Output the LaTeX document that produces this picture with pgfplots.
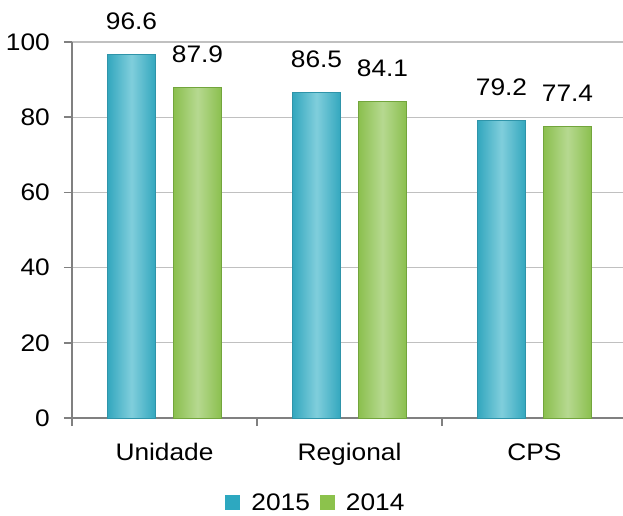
\documentclass[border=0pt]{standalone}
\usepackage{pgfplots}
\pgfplotsset{compat=1.18}
\usepackage{fontspec}
\setmainfont{Liberation Sans}[FakeStretch=1.1]
\definecolor{tealA}{HTML}{33A7BE}
\definecolor{tealB}{HTML}{80CEDC}
\definecolor{tealL}{HTML}{2F94A9}
\definecolor{tealS}{HTML}{2DA8C0}
\definecolor{greenA}{HTML}{8BBF4E}
\definecolor{greenB}{HTML}{B6D990}
\definecolor{greenL}{HTML}{72A53C}
\definecolor{greenS}{HTML}{8CC24C}
\definecolor{gridc}{HTML}{C0C0C0}
\definecolor{axc}{HTML}{808080}
\pgfplotsset{
  b15/.style={bar shift=-33bp, draw=tealL, line width=1bp, left color=tealA, right color=tealA, middle color=tealB, forget plot},
  b14/.style={bar shift=33bp, draw=greenL, line width=1bp, left color=greenA, right color=greenA, middle color=greenB, forget plot},
}
\begin{document}
\begin{tikzpicture}[font=\fontsize{24}{28}\selectfont]
\begin{axis}[
  scale only axis,
  width=555bp, height=376bp,
  xmin=-0.5, xmax=2.5,
  ymin=0, ymax=100,
  ytick={0,20,40,60,80,100},
  xtick={-0.5,0.5,1.5,2.5},
  xticklabels={},
  extra x ticks={0,1,2},
  extra x tick labels={Unidade,Regional,CPS},
  extra x tick style={major tick length=0pt, grid=none,
    xticklabel style={anchor=base, inner sep=0pt, yshift=-42bp}},
  axis lines*=left,
  axis line style={draw=axc, line width=1.5bp, -},
  tick style={draw=axc, line width=1.5bp},
  tick align=outside,
  major tick length=8bp,
  ymajorgrids,
  major grid style={draw=gridc, line width=1.2bp},
  yticklabel style={anchor=east, inner sep=0pt, xshift=-14bp},
  /pgf/number format/assume math mode=true,
  tick label style={font=\fontsize{24}{28}\selectfont},
  clip=false,
  ybar, bar width=48bp,
  nodes near coords,
  nodes near coords style={anchor=base, inner sep=0pt, yshift=25bp, font=\fontsize{24}{28}\selectfont, color=black,
    /pgf/number format/.cd, fixed, fixed zerofill, precision=1, assume math mode=true},
  legend columns=2,
  legend style={at={(0.4396,-0.225)}, anchor=center, draw=none, fill=none,
    font=\fontsize{24}{28}\selectfont,
    /tikz/every even column/.append style={column sep=8bp}},
  legend image code/.code={\fill[#1, draw=none] (0bp,-7.5bp) rectangle (15bp,7.5bp); \path[draw=none, fill=none] (0bp,0bp) -- (24bp,0bp);},
]
% 2015
\addplot[b15] coordinates {(0,96.6)};
\addplot[b15] coordinates {(1,86.5)};
\addplot[b15] coordinates {(2,79.2)};
% 2014
\addplot[b14] coordinates {(0,87.9)};
\addplot[b14] coordinates {(1,84.1)};
\addplot[b14] coordinates {(2,77.4)};
\addlegendimage{fill=tealS}
\addlegendentry{2015}
\addlegendimage{fill=greenS}
\addlegendentry{2014}
\end{axis}
\pgfresetboundingbox
\useasboundingbox (-72bp,-98bp) rectangle (551bp,418bp);
\end{tikzpicture}
\end{document}
